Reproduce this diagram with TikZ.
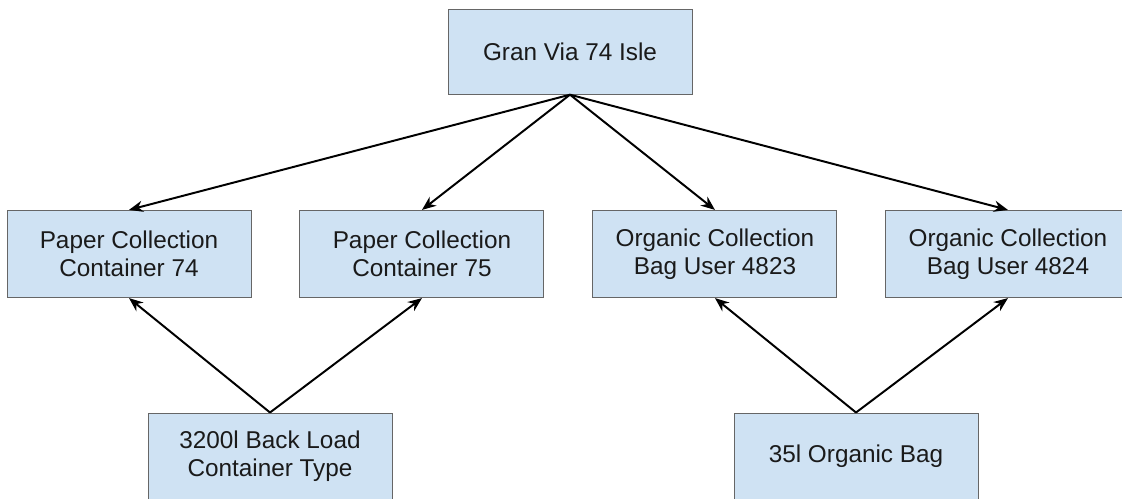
\documentclass[tikz,border=0pt]{standalone}
\usepackage{fontspec}
\setmainfont{Liberation Sans}
\usepackage{xcolor}
\usepackage{tikz}
\usetikzlibrary{arrows.meta, positioning}
\definecolor{boxfill}{HTML}{CFE2F3}
\definecolor{boxline}{HTML}{666666}
\definecolor{boxtext}{HTML}{1A1A1A}

\begin{document}
\begin{tikzpicture}[
  node distance=1.2cm,
  box/.style={draw=boxline, fill=boxfill, line width=0.7pt, align=center, text=boxtext, minimum width=6.1cm, minimum height=2.18cm, font=\fontsize{17.3}{19.9}\selectfont},
  arrow/.style={-{Stealth[length=10pt, width=8pt]}, line width=1.4pt}
]
\useasboundingbox (0,0) rectangle (28.05,-12.475);
\node[box, minimum height=2.13cm] (gran) at (14.25,-1.29) {Gran Via 74 Isle};
\node[box] (paper74) at (3.225,-6.35) {Paper Collection\\Container 74};
\node[box, right=of paper74] (paper75) {Paper Collection\\Container 75};
\node[box, right=of paper75] (org4823) {Organic Collection\\Bag User 4823};
\node[box, right=of org4823] (org4824) {Organic Collection\\Bag User 4824};
\node[box, minimum height=2.15cm] (backload) at (6.75,-11.4) {3200l Back Load\\Container Type};
\node[box, minimum height=2.15cm] (orgbag) at (21.4,-11.4) {35l Organic Bag};

\draw[arrow] (gran.south) -- (paper74.north);
\draw[arrow] (gran.south) -- (paper75.north);
\draw[arrow] (gran.south) -- (org4823.north);
\draw[arrow] (gran.south) -- (org4824.north);
\draw[arrow] (backload.north) -- (paper74.south);
\draw[arrow] (backload.north) -- (paper75.south);
\draw[arrow] (orgbag.north) -- (org4823.south);
\draw[arrow] (orgbag.north) -- (org4824.south);
\end{tikzpicture}
\end{document}
